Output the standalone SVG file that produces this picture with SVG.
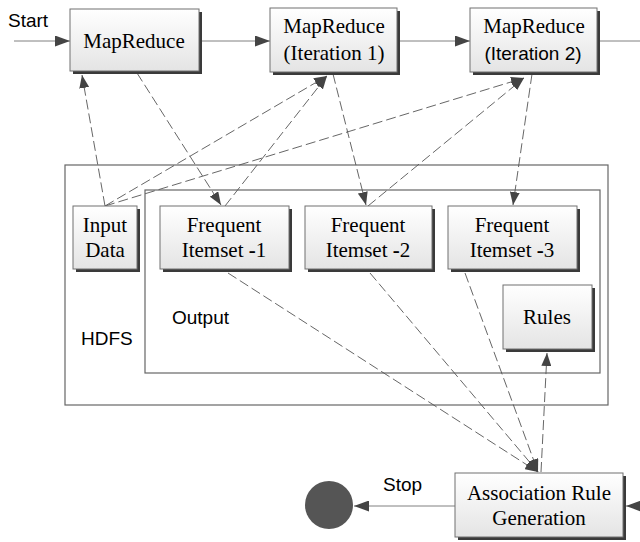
<svg xmlns="http://www.w3.org/2000/svg" width="640" height="542" viewBox="0 0 640 542">
  <defs>
    <linearGradient id="boxFill" x1="0" y1="0" x2="0" y2="1">
      <stop offset="0" stop-color="#ffffff"/>
      <stop offset="1" stop-color="#e4e4e4"/>
    </linearGradient>
    <marker id="arrowSolid" markerUnits="userSpaceOnUse" markerWidth="15" markerHeight="11" refX="15" refY="5.5" orient="auto">
      <path d="M0,0 L15,5.5 L0,11 z" fill="#444"/>
    </marker>
    <marker id="arrowDash" markerUnits="userSpaceOnUse" markerWidth="13" markerHeight="10" refX="13" refY="5" orient="auto">
      <path d="M0,0 L13,5 L0,10 z" fill="#444"/>
    </marker>
  </defs>
  <style>
    .shadow { fill: #3a3a3a; }
    .box { fill: url(#boxFill); stroke: #707070; stroke-width: 1; }
    .frame { fill: none; stroke: #666; stroke-width: 1.2; }
    .serif { font-family: "Liberation Serif", "Times New Roman", serif; font-size: 21px; fill: #000; text-anchor: middle; }
    .sans { font-family: "Liberation Sans", Arial, sans-serif; font-size: 19px; fill: #000; }
    .solid { fill: none; stroke: #808080; stroke-width: 1; }
    .dash { fill: none; stroke: #555; stroke-width: 0.9; stroke-dasharray: 10 4; }
  </style>

  <rect width="640" height="542" fill="#ffffff"/>

  <!-- containers -->
  <g id="hdfs">
    <rect class="frame" x="65" y="165" width="543" height="240"/>
    <text class="sans" x="81" y="345">HDFS</text>
  </g>
  <g id="output">
    <rect class="frame" x="145" y="190" width="455" height="183"/>
    <text class="sans" x="172" y="324">Output</text>
  </g>

  <!-- connectors -->
  <g id="connectors">
    <path class="solid" d="M14,41 L70,41" marker-end="url(#arrowSolid)"/>
    <path class="solid" d="M199,41 L270,41" marker-end="url(#arrowSolid)"/>
    <path class="solid" d="M397,41 L470,41" marker-end="url(#arrowSolid)"/>
    <path class="solid" d="M597,41 L640,41"/>
    <path class="solid" d="M455,506 L354,506" marker-end="url(#arrowSolid)"/>
    <path class="solid" d="M640,506 L626,506" marker-end="url(#arrowSolid)"/>

    <path class="dash" d="M105,206 L82,75" marker-end="url(#arrowDash)"/>
    <path class="dash" d="M105,206 L327,76" marker-end="url(#arrowDash)"/>
    <path class="dash" d="M105,206 L524,78" marker-end="url(#arrowDash)"/>
    <path class="dash" d="M137,73 L221,205" marker-end="url(#arrowDash)"/>
    <path class="dash" d="M225,206 L327,76" marker-end="url(#arrowDash)"/>
    <path class="dash" d="M333,74 L366,205" marker-end="url(#arrowDash)"/>
    <path class="dash" d="M368,206 L524,78" marker-end="url(#arrowDash)"/>
    <path class="dash" d="M532,74 L513,205" marker-end="url(#arrowDash)"/>
    <path class="dash" d="M228,273 L538,472" marker-end="url(#arrowDash)"/>
    <path class="dash" d="M370,273 L538,472" marker-end="url(#arrowDash)"/>
    <path class="dash" d="M465,273 L538,472" marker-end="url(#arrowDash)"/>
    <path class="dash" d="M541,472 L547,353" marker-end="url(#arrowDash)"/>
  </g>

  <text class="sans" x="8" y="27">Start</text>
  <text class="sans" x="383" y="491">Stop</text>

  <!-- MapReduce stages -->
  <g id="mapreduce">
    <rect class="shadow" x="73" y="12" width="129" height="62"/>
    <rect class="box" x="70" y="9" width="129" height="62"/>
    <text class="serif" x="134" y="48">MapReduce</text>
  </g>
  <g id="mapreduce-iter1">
    <rect class="shadow" x="273" y="11" width="127" height="64"/>
    <rect class="box" x="270" y="8" width="127" height="64"/>
    <text class="serif" x="334" y="33">MapReduce</text>
    <text class="serif" x="334" y="60">(Iteration 1)</text>
  </g>
  <g id="mapreduce-iter2">
    <rect class="shadow" x="473" y="11" width="127" height="64"/>
    <rect class="box" x="470" y="8" width="127" height="64"/>
    <text class="serif" x="534" y="33">MapReduce</text>
    <text class="sans" x="533" y="60" text-anchor="middle" font-size="20">(Iteration 2)</text>
  </g>

  <!-- HDFS contents -->
  <g id="input-data">
    <rect class="shadow" x="76" y="209" width="64" height="63"/>
    <rect class="box" x="73" y="206" width="64" height="63"/>
    <text class="serif" x="105" y="232">Input</text>
    <text class="serif" x="105" y="257">Data</text>
  </g>
  <g id="itemset-1">
    <rect class="shadow" x="163" y="209" width="129" height="63"/>
    <rect class="box" x="160" y="206" width="129" height="63"/>
    <text class="serif" x="224" y="232">Frequent</text>
    <text class="serif" x="224" y="257">Itemset <tspan font-weight="bold">-</tspan>1</text>
  </g>
  <g id="itemset-2">
    <rect class="shadow" x="308" y="209" width="127" height="63"/>
    <rect class="box" x="305" y="206" width="127" height="63"/>
    <text class="serif" x="368" y="232">Frequent</text>
    <text class="serif" x="368" y="257">Itemset <tspan font-weight="bold">-</tspan>2</text>
  </g>
  <g id="itemset-3">
    <rect class="shadow" x="451" y="209" width="129" height="63"/>
    <rect class="box" x="448" y="206" width="129" height="63"/>
    <text class="serif" x="512" y="232">Frequent</text>
    <text class="serif" x="512" y="257">Itemset <tspan font-weight="bold">-</tspan>3</text>
  </g>
  <g id="rules">
    <rect class="shadow" x="506" y="288" width="89" height="64"/>
    <rect class="box" x="503" y="285" width="89" height="64"/>
    <text class="serif" x="547" y="324">Rules</text>
  </g>

  <!-- rule generation and end state -->
  <g id="association-rule-generation">
    <rect class="shadow" x="458" y="476" width="168" height="64"/>
    <rect class="box" x="455" y="473" width="168" height="64"/>
    <text class="serif" x="539" y="500">Association Rule</text>
    <text class="serif" x="539" y="525">Generation</text>
  </g>
  <g id="stop">
    <circle cx="329" cy="505" r="24" fill="#555"/>
  </g>
</svg>
